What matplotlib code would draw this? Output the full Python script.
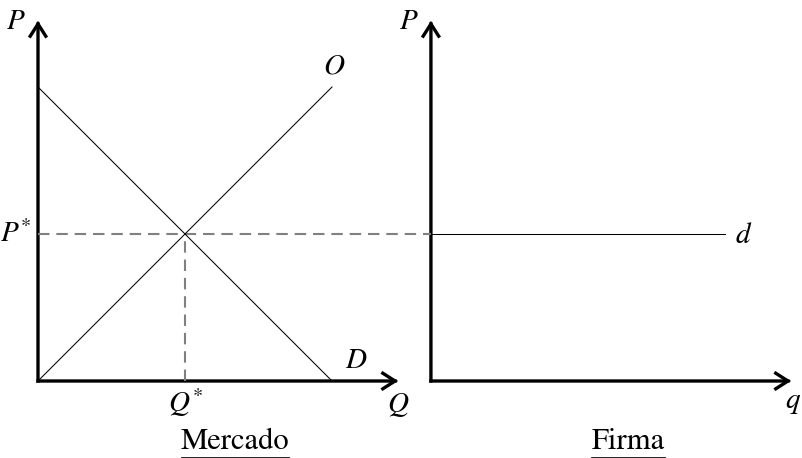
import matplotlib
matplotlib.use("Agg")
import matplotlib.pyplot as plt
from matplotlib.patches import FancyArrowPatch

plt.rcParams['mathtext.fontset'] = 'stix'
plt.rcParams['font.family'] = ['STIXGeneral', 'DejaVu Serif']

# ---- model data (economic units) ----
demand_q = [0.0, 2.0]
demand_p = [2.0, 0.0]
supply_q = [0.0, 2.0]
supply_p = [0.0, 2.0]
eq_q = 1.0
eq_p = 1.0
axis_len = 2.45
firm_offset = 2.673          # horizontal position of firm panel origin
firm_d_len = 2.0
panel_titles = ["Mercado", "Firma"]

px = 147.0  # pixels per unit
W, H = 802, 458
ox, oy = 38, 381

fig = plt.figure(figsize=(W / 100, H / 100), dpi=100)
ax = fig.add_axes([0, 0, 1, 1])
ax.set_xlim(-ox / px, (W - ox) / px)
ax.set_ylim(-(H - oy) / px, oy / px)
ax.axis('off')

axis_lw = 2.4
thin_lw = 0.75
dash_col = '#808080'

def arrow(x0, y0, x1, y1):
    a = FancyArrowPatch((x0, y0), (x1, y1), arrowstyle='->,head_length=5.5,head_width=3.5',
                        lw=axis_lw, color='black', shrinkA=0, shrinkB=0,
                        capstyle='projecting', joinstyle='miter', mutation_scale=1.6)
    ax.add_patch(a)

# Market panel axes
arrow(0, 0, 0, axis_len)
arrow(0, 0, axis_len, 0)
# Firm panel axes
arrow(firm_offset, 0, firm_offset, axis_len)
arrow(firm_offset, 0, firm_offset + axis_len, 0)

# dashed guides
ax.plot([0, firm_offset], [eq_p, eq_p], ls=(0, (5.5, 3.3)), color=dash_col, lw=1.5, zorder=1)
ax.plot([eq_q, eq_q], [0, eq_p], ls=(0, (5.5, 3.3)), color=dash_col, lw=1.5, zorder=1)

# curves
ax.plot(demand_q, demand_p, color='black', lw=thin_lw)
ax.plot(supply_q, supply_p, color='black', lw=thin_lw)
ax.plot([firm_offset, firm_offset + firm_d_len], [eq_p, eq_p], color='black', lw=thin_lw)

fs = 21
def lab(x, y, s, ha='center', va='center'):
    ax.text(x, y, s, fontsize=fs, ha=ha, va=va)

lab(-22 / px, 2.44, r'$P$')
lab(-22 / px, eq_p, r'$P^{*}$')
lab(eq_q, -22 / px, r'$Q^{*}$')
lab(axis_len, -24 / px, r'$Q$')
lab(supply_q[1] + 2 / px, supply_p[1] + 20 / px, r'$O$')
lab(demand_q[1] + 24 / px, 20 / px, r'$D$')
lab(firm_offset - 22 / px, 2.44, r'$P$')
lab(firm_offset + firm_d_len + 19 / px, eq_p - 2 / px, r'$d$')
lab(firm_offset + axis_len + 2 / px, -22 / px, r'$q$')

titles = []
titles.append(ax.text(1.34, -61 / px, panel_titles[0], fontsize=fs + 1, ha='center', va='center'))
titles.append(ax.text(firm_offset + 1.34, -61 / px, panel_titles[1], fontsize=fs + 1, ha='center', va='center'))

fig.canvas.draw()
r = fig.canvas.get_renderer()
inv = ax.transData.inverted()
for t in titles:
    bb = t.get_window_extent(r)
    (x0, y0) = inv.transform((bb.x0, bb.y0))
    (x1, _) = inv.transform((bb.x1, bb.y0))
    ax.plot([x0, x1], [y0 - 1 / px, y0 - 1 / px], color='black', lw=0.6)

fig.savefig('out.png', dpi=100)
